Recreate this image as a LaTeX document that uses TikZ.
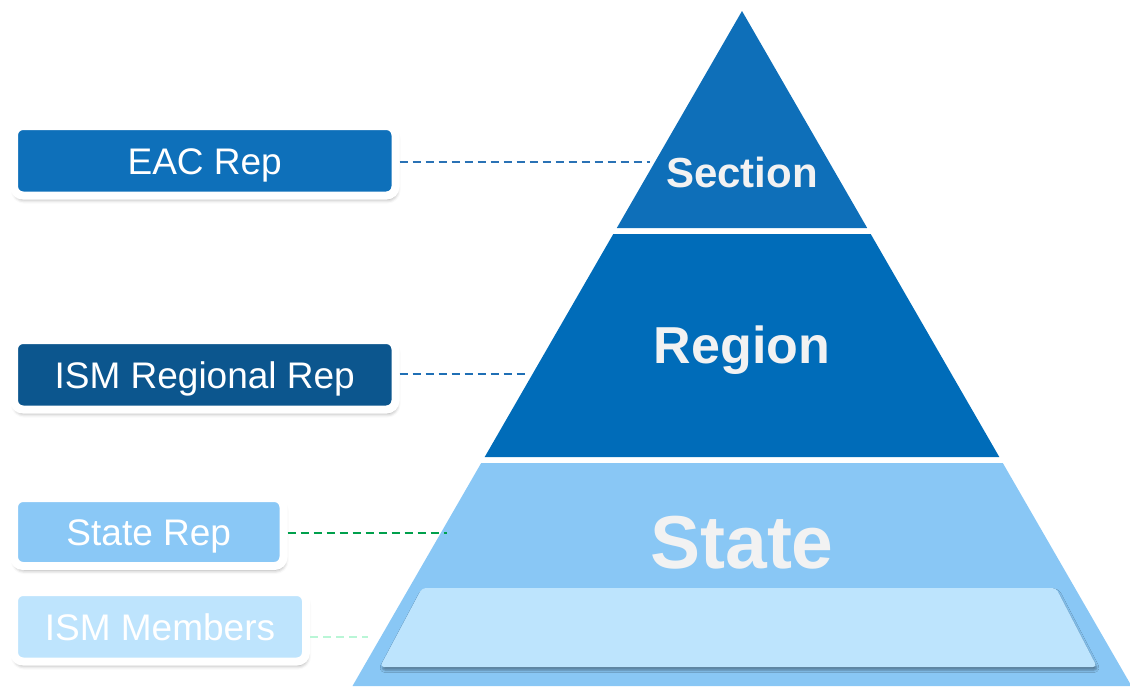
\documentclass[tikz,border=0pt]{standalone}
\usepackage{fontspec}
\setmainfont{Liberation Sans}
\usetikzlibrary{shadows.blur}
\definecolor{secC}{HTML}{0E6FB9}
\definecolor{regC}{HTML}{006CB9}
\definecolor{staC}{HTML}{89C7F5}
\definecolor{plateC}{HTML}{BDE4FD}
\definecolor{txtC}{HTML}{F2F2F2}
\definecolor{eacC}{HTML}{0E70BA}
\definecolor{ismrC}{HTML}{0C568E}
\definecolor{strC}{HTML}{8AC8F6}
\definecolor{memC}{HTML}{BEE4FD}
\definecolor{eacL}{HTML}{2A72B5}
\definecolor{ismrL}{HTML}{1F6FB5}
\definecolor{strL}{HTML}{00A04C}
\definecolor{memL}{HTML}{B9F6D6}
\begin{document}
\begin{tikzpicture}[x=1pt,y=-1pt,
  repbox/.style={draw=white, line width=8pt, rounded corners=9pt, inner sep=0pt,
    text=white, font=\fontsize{37}{37}\selectfont, text height=26.5pt, text depth=0pt,
    blur shadow={shadow xshift=1pt, shadow yshift=-4pt, shadow blur radius=4pt, shadow opacity=40}},
  link/.style={line width=2pt, dash pattern=on 8pt off 5pt},
  lvl/.style={text=txtC, anchor=base, inner sep=0pt}]
\useasboundingbox (0,0) rectangle (1130,686);
% pyramid
\fill[secC] (742,11) -- (867.2,228) -- (616.8,228) -- cycle;
\fill[regC] (613.3,234) -- (870.7,234) -- (999.3,457) -- (484.7,457) -- cycle;
\fill[staC] (481.2,463) -- (1002.8,463) -- (1131.5,686) -- (352.5,686) -- cycle;
\fill[plateC, rounded corners=4pt,
  blur shadow={shadow xshift=1pt, shadow yshift=-3pt, shadow blur radius=2.5pt, shadow opacity=40}]
  (422,588) -- (1056,588) -- (1097,667) -- (380,667) -- cycle;
% level labels
\node[lvl, font=\bfseries\fontsize{42}{42}\selectfont] (sec) at (742,187) {Section};
\node[lvl, font=\bfseries\fontsize{52}{52}\selectfont] (reg) at (742,363) {Region};
\node[lvl, font=\bfseries\fontsize{75}{75}\selectfont] (sta) at (742,568) {State};
% rep boxes
\node[repbox, fill=eacC, minimum width=381.5pt, minimum height=69.5pt] (eac) at (204.75,160.75) {EAC Rep};
\node[repbox, fill=ismrC, minimum width=381.5pt, minimum height=69.5pt] (ismr) at (204.75,374.75) {ISM Regional Rep};
\node[repbox, fill=strC, minimum width=269.5pt, minimum height=68pt] (strp) at (148.75,532) {State Rep};
\node[repbox, fill=memC, minimum width=292pt, minimum height=69.5pt] (mem) at (160,626.75) {ISM Members};
% connector ends
\coordinate (eacEnd) at (650,162);
\coordinate (ismrEnd) at (527,374);
\coordinate (strEnd) at (447,533);
\coordinate (memEnd) at (368,637);
\draw[link, draw=eacL] (eac.east |- eacEnd) -- (eacEnd);
\draw[link, draw=ismrL] (ismr.east |- ismrEnd) -- (ismrEnd);
\draw[link, draw=strL] (strp.east |- strEnd) -- (strEnd);
\draw[link, draw=memL] (mem.east |- memEnd) -- (memEnd);
\end{tikzpicture}
\end{document}
